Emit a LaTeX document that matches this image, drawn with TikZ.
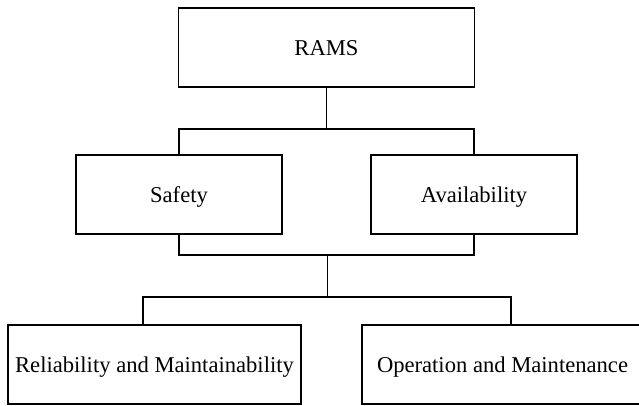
\documentclass[tikz,border=0pt]{standalone}
\usepackage{fontspec}
\setmainfont{Liberation Serif}
\usepackage{tikz}

\begin{document}
\begin{tikzpicture}[x=1pt,y=-1pt]
    \tikzstyle{block}=[draw, line width=1.2pt, minimum height=79pt
    , inner sep=0pt, text height=15pt, text depth=0pt
    , font=\fontsize{22.6}{27}\selectfont]
    \tikzstyle{link}=[line width=1.2pt]
    \useasboundingbox (0,0) rectangle (639,405);
    \clip (0,0) rectangle (639,405);
    % Draw the boxes
    \node[block, minimum width=296pt] (rams) at (326.5,47.5) {RAMS};
    \node[block, minimum width=206pt] (safety) at (179,194.5) {Safety};
    \node[block, minimum width=206pt] (avail) at (474,194.5) {Availability};
    \node[block, minimum width=293pt] (relmaint) at (154.5,364.5) {Reliability and Maintainability};
    \node[block, minimum width=281pt] (opmaint) at (502.5,364.5) {Operation and Maintenance};
    % Junctions
    \coordinate (topjoin) at (rams.south |- 0,129);
    \coordinate (midjoin) at (327.5,255);
    \coordinate (lowjoin) at (327.5,297);
    \coordinate (lefthook) at (143,297);
    \coordinate (righthook) at (511,297);
    % Draw the links
    \draw[link] (rams.south) -- (topjoin);
    \draw[link] (safety.north) |- (topjoin) -| (avail.north);
    \draw[link] (safety.south) |- (midjoin) -| (avail.south);
    \draw[link] (midjoin) -- (lowjoin);
    \draw[link] (lefthook |- relmaint.north) -- (lefthook) -- (righthook) -- (righthook |- opmaint.north);
  \end{tikzpicture}
\end{document}
